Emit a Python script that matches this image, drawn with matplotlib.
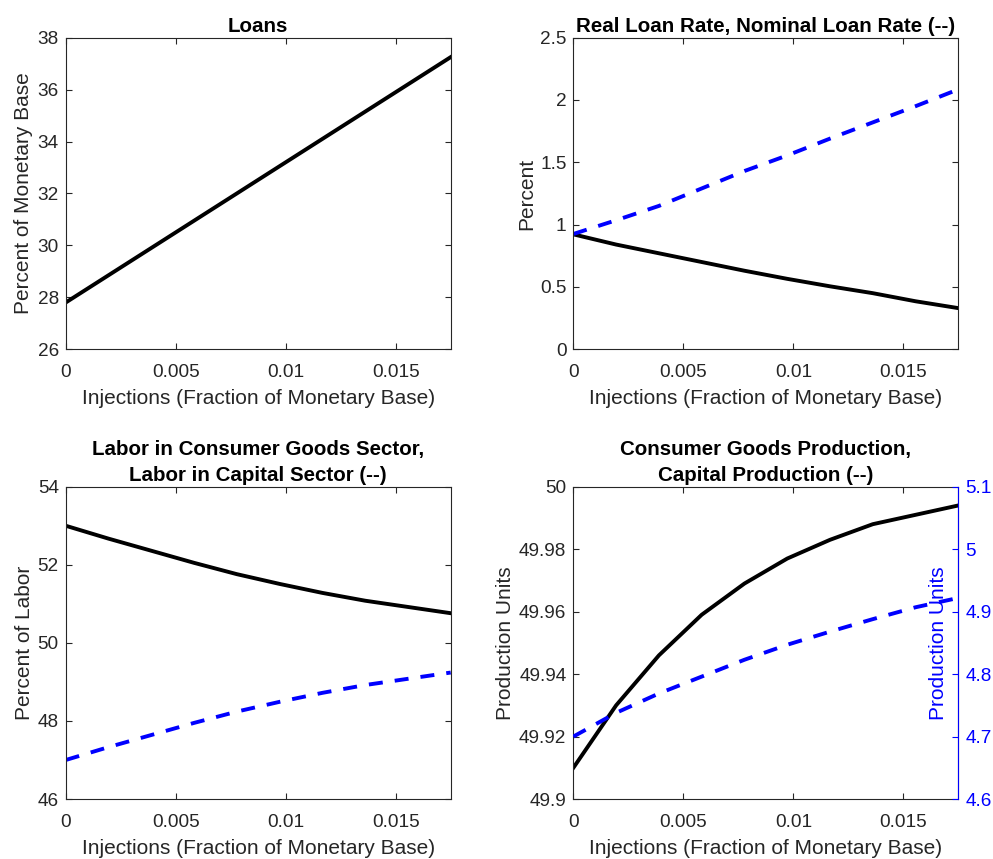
import matplotlib
matplotlib.use("Agg")
import matplotlib.pyplot as plt
from matplotlib.ticker import FuncFormatter

# injections grid (fraction of monetary base)
x = [0.0, 0.001944, 0.003889, 0.005833, 0.007778, 0.009722, 0.011667, 0.013611, 0.015556, 0.0175]

loans = [27.80, 28.85, 29.90, 30.95, 32.00, 33.05, 34.10, 35.15, 36.20, 37.25]

real_rate = [0.922, 0.84, 0.77, 0.70, 0.63, 0.565, 0.505, 0.45, 0.385, 0.33]
nominal_rate = [0.925, 1.035, 1.15, 1.29, 1.43, 1.555, 1.69, 1.82, 1.95, 2.085]

labor_cons = [53.0, 52.67, 52.36, 52.05, 51.76, 51.51, 51.28, 51.08, 50.92, 50.76]
labor_cap = [47.0, 47.33, 47.64, 47.95, 48.24, 48.49, 48.72, 48.92, 49.08, 49.24]

prod_cons = [49.910, 49.930, 49.946, 49.959, 49.969, 49.977, 49.983, 49.988, 49.991, 49.994]
prod_cap = [4.700, 4.738, 4.769, 4.796, 4.823, 4.847, 4.868, 4.888, 4.907, 4.922]

xticks = [0, 0.005, 0.01, 0.015]
xlab = "Injections (Fraction of Monetary Base)"

plt.rcParams['font.family'] = ['Liberation Sans', 'DejaVu Sans']

gray = '#262626'
blue = '#0000ff'
lw = 2.8
dash = (0, (3.6, 3.1))
tick_fs = 13.7
lab_fs = 15
title_fs = 14.8

fmt = FuncFormatter(lambda v, p: f"{v:g}")


def style_axes(ax, ylim, yticks, ylabel):
    '''MATLAB-ish box axes with inward ticks on all sides'''
    ax.set_xlim(0, 0.0175)
    ax.set_ylim(*ylim)
    ax.set_xticks(xticks)
    ax.set_yticks(yticks)
    ax.xaxis.set_major_formatter(fmt)
    ax.yaxis.set_major_formatter(fmt)
    ax.tick_params(direction='in', length=4, width=0.8, colors=gray,
                   top=True, right=True, labelsize=tick_fs)
    ax.tick_params(axis='x', pad=10.5)
    ax.tick_params(axis='y', pad=5)
    for s in ax.spines.values():
        s.set_color(gray)
        s.set_linewidth(0.8)
    ax.set_xlabel(xlab, color=gray, fontsize=lab_fs, labelpad=6)
    ax.set_ylabel(ylabel, color=gray, fontsize=lab_fs, labelpad=3)


fig = plt.figure(figsize=(9.93, 8.59), dpi=100)
L, R = 0.0662, 0.5774
W = 0.3877
ax1 = fig.add_axes([L, 0.5934, W, 0.3628])
ax2 = fig.add_axes([R, 0.5934, W, 0.3628])
ax3 = fig.add_axes([L, 0.0698, W, 0.3636])
ax4 = fig.add_axes([R, 0.0698, W, 0.3636])

# Loans
ax1.plot(x, loans, color='k', lw=lw)
style_axes(ax1, (26, 38), [26, 28, 30, 32, 34, 36, 38], "Percent of Monetary Base")
ax1.set_title("Loans", fontweight='bold', fontsize=title_fs, pad=4)

# Rates
ax2.plot(x, real_rate, color='k', lw=lw)
ax2.plot(x, nominal_rate, color=blue, lw=lw, linestyle=dash)
style_axes(ax2, (0, 2.5), [0, 0.5, 1, 1.5, 2, 2.5], "Percent")
ax2.set_title("Real Loan Rate, Nominal Loan Rate (--)", fontweight='bold', fontsize=title_fs, pad=4)

# Labor
ax3.plot(x, labor_cons, color='k', lw=lw)
ax3.plot(x, labor_cap, color=blue, lw=lw, linestyle=dash)
style_axes(ax3, (46, 54), [46, 48, 50, 52, 54], "Percent of Labor")
ax3.set_title("Labor in Consumer Goods Sector,\nLabor in Capital Sector (--)",
              fontweight='bold', fontsize=title_fs, pad=4, linespacing=1.5)

# Production, two y axes
ax4.plot(x, prod_cons, color='k', lw=lw)
style_axes(ax4, (49.9, 50.0), [49.9, 49.92, 49.94, 49.96, 49.98, 50.0], "Production Units")
ax4.tick_params(right=False)
ax4.set_title("Consumer Goods Production,\nCapital Production (--)",
              fontweight='bold', fontsize=title_fs, pad=4, linespacing=1.5)
ax4b = ax4.twinx()
ax4b.plot(x, prod_cap, color=blue, lw=lw, linestyle=dash)
ax4b.set_ylim(4.6, 5.1)
ax4b.set_yticks([4.6, 4.7, 4.8, 4.9, 5.0, 5.1])
ax4b.yaxis.set_major_formatter(fmt)
ax4b.tick_params(direction='in', length=4, width=0.8, colors=blue, labelsize=tick_fs, pad=5)
ax4b.spines['right'].set_color(blue)
for s in ['top', 'left', 'bottom']:
    ax4b.spines[s].set_visible(False)
ax4b.set_ylabel("Production Units", color=blue, fontsize=lab_fs)
ax4b.yaxis.set_label_coords(0.925, 0.5)

fig.savefig("out.png", dpi=100)
